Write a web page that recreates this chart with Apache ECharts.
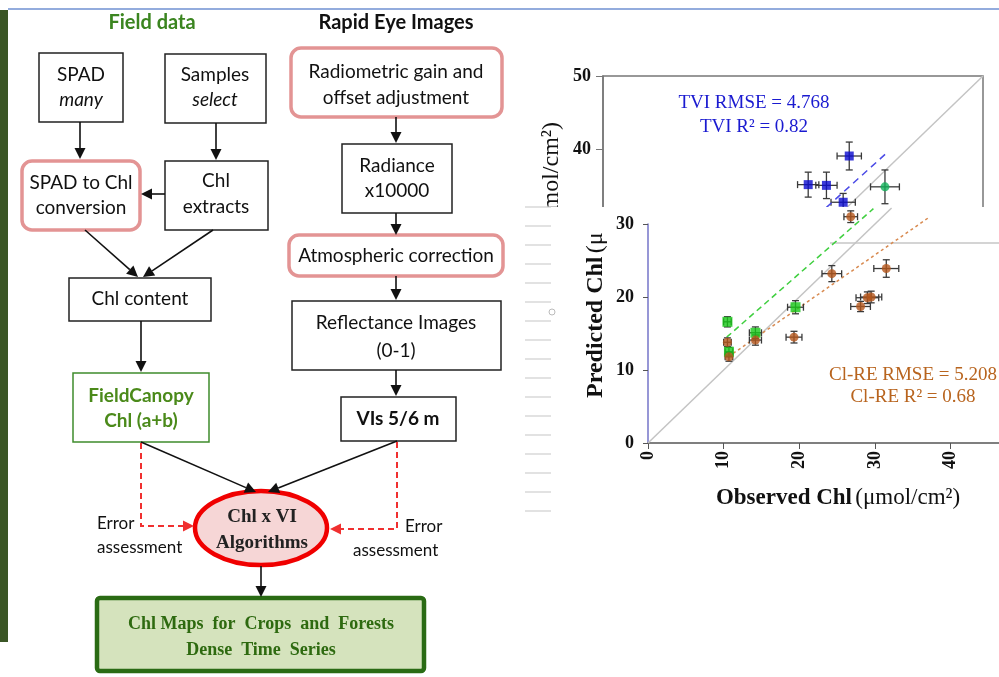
<!DOCTYPE html>
<html>
<head>
<meta charset="utf-8">
<script src="https://cdn.jsdelivr.net/npm/echarts@6/dist/echarts.min.js"></script>
<style>
  html, body { margin: 0; padding: 0; background: #fff; }
  #main { width: 999px; height: 677px; }
</style>
</head>
<body>
<div id="main"></div>
<script>
// upper panel (TVI)
var tviObs = [32.4, 27.0, 29.4, 31.6];
var tviPred = [39.1, 35.2, 35.1, 32.8];
var tviErrX = [1.6, 1.4, 1.4, 1.6];
var tviErrY = [1.9, 1.7, 1.8, 1.2];
var extraObs = [37.1];
var extraPred = [34.9];
var extraErrX = [1.9];
var extraErrY = [2.3];
var tviFit = [[29.4, 32.1], [37.2, 39.4]];
var oneToOneTop = [[0, 0], [50, 50]];

// lower panel (green squares + Cl-RE)
var greenObs = [10.5, 10.7, 14.2, 19.5];
var greenPred = [16.6, 12.5, 15.1, 18.6];
var greenErrX = [0.5, 0.5, 0.8, 1.05];
var greenErrY = [0.7, 0.6, 0.8, 0.9];
var creObs = [10.5, 10.7, 14.2, 19.3, 24.3, 31.5, 29.0, 29.5, 28.1, 26.8];
var crePred = [13.8, 11.8, 14.1, 14.5, 23.2, 23.9, 19.9, 20.0, 18.7, 31.0];
var creErrX = [0.5, 0.5, 0.8, 1.05, 1.3, 1.65, 1.5, 1.4, 1.3, 0.9];
var creErrY = [0.6, 0.6, 0.7, 0.8, 1.1, 1.2, 0.8, 0.8, 0.7, 0.8];
var greenFit = [[10.4, 14.5], [29.8, 32.1]];
var creFit = [[10.6, 11.8], [37.0, 30.8]];
var oneToOneLow = [[0, 0], [32.2, 32.2]];

var SANS = 'Lato, "Noto Sans", sans-serif';
var SERIF = '"Liberation Serif", "DejaVu Serif", serif';

function zip(xs, ys) {
  return xs.map(function (x, i) { return [x, ys[i]]; });
}
function zip4(xs, ys, ex, ey) {
  return xs.map(function (x, i) { return [x, ys[i], ex[i], ey[i]]; });
}

// error bars drawn through the axes
function errRender(params, api) {
  var x = api.value(0), y = api.value(1), ex = api.value(2), ey = api.value(3);
  var c = api.coord([x, y]);
  var l = api.coord([x - ex, y]), r = api.coord([x + ex, y]);
  var t = api.coord([x, y + ey]), b = api.coord([x, y - ey]);
  var st = { stroke: '#3a3a3a', lineWidth: 1.3 };
  var cap = 3.5;
  return {
    type: 'group',
    children: [
      { type: 'line', shape: { x1: l[0], y1: c[1], x2: r[0], y2: c[1] }, style: st },
      { type: 'line', shape: { x1: c[0], y1: t[1], x2: c[0], y2: b[1] }, style: st },
      { type: 'line', shape: { x1: l[0], y1: c[1] - cap, x2: l[0], y2: c[1] + cap }, style: st },
      { type: 'line', shape: { x1: r[0], y1: c[1] - cap, x2: r[0], y2: c[1] + cap }, style: st },
      { type: 'line', shape: { x1: c[0] - cap, y1: t[1], x2: c[0] + cap, y2: t[1] }, style: st },
      { type: 'line', shape: { x1: c[0] - cap, y1: b[1], x2: c[0] + cap, y2: b[1] }, style: st }
    ]
  };
}

// ---------- flowchart helpers ----------
var els = [];
function box(x, y, w, h, kind) {
  var s = { fill: '#fff', stroke: '#222', lineWidth: 1.5 };
  var r = 0;
  if (kind === 'pink') { s.stroke = '#e39494'; s.lineWidth = 3.5; r = 10; }
  if (kind === 'green') { s.stroke = '#3f8c2c'; s.lineWidth = 1.5; }
  if (kind === 'final') { s.fill = '#d5e3bd'; s.stroke = '#2a6b14'; s.lineWidth = 4.5; r = 3; }
  els.push({ type: 'rect', z: 3, shape: { x: x, y: y, width: w, height: h, r: r }, style: s });
}
function txt(str, x, y, font, color, align) {
  els.push({
    type: 'text', z: 4,
    style: {
      text: str, x: x, y: y, font: font, fill: color || '#111',
      align: align || 'center', verticalAlign: 'middle',
      textAlign: align || 'center', textVerticalAlign: 'middle'
    }
  });
}
function arrow(x1, y1, x2, y2, color, dashed) {
  var col = color || '#111';
  var a = Math.atan2(y2 - y1, x2 - x1);
  var len = 11, hw = 5.5;
  var bx = x2 - len * Math.cos(a), by = y2 - len * Math.sin(a);
  els.push({
    type: 'line', z: 3,
    shape: { x1: x1, y1: y1, x2: bx, y2: by },
    style: { stroke: col, lineWidth: dashed ? 2 : 1.6, lineDash: dashed ? [6, 4] : null }
  });
  els.push({
    type: 'polygon', z: 3,
    shape: { points: [[x2, y2],
      [bx + hw * Math.sin(a), by - hw * Math.cos(a)],
      [bx - hw * Math.sin(a), by + hw * Math.cos(a)]] },
    style: { fill: col }
  });
}
function dline(pts, color) {
  els.push({
    type: 'polyline', z: 3, shape: { points: pts },
    style: { stroke: color, lineWidth: 2, lineDash: [6, 4], fill: null }
  });
}

// frame decorations
els.push({ type: 'rect', z: 1, shape: { x: 0, y: 10, width: 8, height: 632 }, style: { fill: '#3b5626' } });
els.push({ type: 'line', z: 1, shape: { x1: 8, y1: 9, x2: 999, y2: 9 }, style: { stroke: '#6f90d2', lineWidth: 1.5 } });

var F = '19px ' + SANS;
var FB = 'bold 19px ' + SANS;
var FI = 'italic 19px ' + SANS;

txt('Field data', 152, 23, 'bold 20px ' + SANS, '#3b8520');
txt('Rapid Eye Images', 396, 23, 'bold 20px ' + SANS, '#111');

box(39, 53, 84, 69); txt('SPAD', 81, 75, F); txt('many', 81, 100, FI);
box(165, 54, 101, 69); txt('Samples', 215, 75, F); txt('select', 215, 100, FI);
box(291, 48, 211, 69, 'pink'); txt('Radiometric gain and', 396, 72, F); txt('offset adjustment', 396, 98, F);
box(22, 161, 118, 69, 'pink'); txt('SPAD to Chl', 81, 183, F); txt('conversion', 81, 208, F);
box(165, 161, 103, 69); txt('Chl', 216, 181, F); txt('extracts', 216, 207, F);
box(342, 144, 110, 69); txt('Radiance', 397, 166, F); txt('x10000', 397, 191, F);
box(69, 278, 142, 43); txt('Chl content', 140, 299, F);
box(289, 235, 214, 41, 'pink'); txt('Atmospheric correction', 396, 256, F);
box(292, 301, 209, 69); txt('Reflectance Images', 396, 323, F); txt('(0-1)', 396, 351, F);
box(73, 373, 136, 69, 'green'); txt('FieldCanopy', 141, 396, FB, '#4b8a1a'); txt('Chl (a+b)', 141, 421, FB, '#4b8a1a');
box(341, 397, 115, 44); txt('VIs 5/6 m', 398, 419, FB);

els.push({ type: 'ellipse', z: 3, shape: { cx: 261, cy: 528, rx: 66, ry: 37 },
  style: { fill: '#f6d6d6', stroke: '#f00000', lineWidth: 4.5 } });
txt('Chl x VI', 262, 517, 'bold 19px ' + SERIF, '#222');
txt('Algorithms', 262, 543, 'bold 19px ' + SERIF, '#222');

box(97, 598, 327, 73, 'final');
txt('Chl Maps  for  Crops  and  Forests', 261, 624, 'bold 18px ' + SERIF, '#2e6a10');
txt('Dense  Time  Series', 261, 650, 'bold 18px ' + SERIF, '#2e6a10');

txt('Error', 97, 524, '17px ' + SANS, '#111', 'left');
txt('assessment', 97, 548, '17px ' + SANS, '#111', 'left');
txt('Error', 405, 527, '17px ' + SANS, '#111', 'left');
txt('assessment', 353, 551, '17px ' + SANS, '#111', 'left');

arrow(80, 122, 80, 159);
arrow(216, 123, 216, 160);
arrow(165, 194, 141, 194);
arrow(396, 117, 396, 143);
arrow(396, 213, 396, 235);
arrow(85, 230, 138, 277);
arrow(213, 230, 143, 277);
arrow(141, 321, 141, 372);
arrow(396, 276, 396, 300);
arrow(396, 370, 396, 396);
arrow(141, 442, 256, 492);
arrow(397, 441, 268, 492);
arrow(261, 566, 261, 597);
dline([[141, 443], [141, 526], [182, 526]], '#f03030');
arrow(181, 526, 194, 526, '#f03030', true);
dline([[397, 442], [397, 529], [342, 529]], '#f03030');
arrow(343, 529, 330, 529, '#f03030', true);

// ---------- chart overlays ----------
// upper y label (mostly hidden behind the lower panel)
els.push({
  type: 'text', z: 2, x: 552, y: 122, rotation: Math.PI / 2,
  style: {
    text: '{b|Predicted Chl} {n|(μmol/cm²)}', x: 0, y: 0,
    align: 'right', verticalAlign: 'middle', textAlign: 'right', textVerticalAlign: 'middle',
    rich: { b: { font: 'bold 24px ' + SERIF, fill: '#111' }, n: { font: '24px ' + SERIF, fill: '#111' } }
  }
});
// lower panel covers the upper one
els.push({ type: 'rect', z: 5, shape: { x: 515, y: 207, width: 484, height: 318 }, style: { fill: '#fff' } });
for (var k = 0; k < 17; k++) {
  els.push({ type: 'line', z: 6, shape: { x1: 525, y1: 207 + 19 * k, x2: 551, y2: 207 + 19 * k },
    style: { stroke: '#cfcfcf', lineWidth: 1.2 } });
}
els.push({ type: 'circle', z: 6, shape: { cx: 552, cy: 312, r: 3 }, style: { fill: null, stroke: '#bbb', lineWidth: 1 } });
els.push({ type: 'line', z: 6, shape: { x1: 830, y1: 243, x2: 999, y2: 243 }, style: { stroke: '#aaa', lineWidth: 1.2 } });
els.push({
  type: 'text', z: 12, x: 596, y: 398, rotation: Math.PI / 2,
  style: {
    text: '{b|Predicted Chl} {n|(μ}', x: 0, y: 0,
    align: 'left', verticalAlign: 'middle', textAlign: 'left', textVerticalAlign: 'middle',
    rich: { b: { font: 'bold 24px ' + SERIF, fill: '#111' }, n: { font: '24px ' + SERIF, fill: '#111' } }
  }
});
els.push({
  type: 'text', z: 12,
  style: {
    text: '{b|Observed Chl} {n|(μmol/cm²)}', x: 838, y: 498,
    align: 'center', verticalAlign: 'middle', textAlign: 'center', textVerticalAlign: 'middle',
    rich: { b: { font: 'bold 23px ' + SERIF, fill: '#111' }, n: { font: '23px ' + SERIF, fill: '#111' } }
  }
});
function note(str, x, y, color, z) {
  els.push({ type: 'text', z: z, style: { text: str, x: x, y: y, font: '19px ' + SERIF, fill: color,
    align: 'center', verticalAlign: 'middle', textAlign: 'center', textVerticalAlign: 'middle' } });
}
note('TVI RMSE = 4.768', 754, 103, '#1a1ad0', 4);
note('TVI R² = 0.82', 754, 127, '#1a1ad0', 4);
note('Cl-RE RMSE = 5.208', 913, 375, '#b8641e', 12);
note('Cl-RE R² = 0.68', 913, 397, '#b8641e', 12);

var tickFont = { fontFamily: SERIF, fontWeight: 'bold', fontSize: 18, color: '#111' };

var chart = echarts.init(document.getElementById('main'), null, { renderer: 'canvas' });
chart.setOption({
  backgroundColor: '#fff',
  animation: false,
  graphic: { elements: els },
  grid: [
    { left: 603, top: 76, width: 380, height: 367, show: true, borderColor: '#777', borderWidth: 1.5, z: 1 },
    { left: 648, top: 224, width: 351, height: 219, z: 10 }
  ],
  xAxis: [
    { gridIndex: 0, type: 'value', min: 0, max: 50, show: false },
    {
      gridIndex: 1, type: 'value', min: 0, max: 46.4, interval: 10, z: 10,
      axisLine: { lineStyle: { color: '#555', width: 1.5 } },
      axisTick: { show: true, length: 6, lineStyle: { color: '#555' } },
      splitLine: { show: false },
      axisLabel: Object.assign({ rotate: 90, margin: 8,
        formatter: function (v) { return v % 10 === 0 ? v : ''; } }, tickFont)
    }
  ],
  yAxis: [
    {
      gridIndex: 0, type: 'value', min: 0, max: 50, interval: 10, z: 1,
      axisLine: { show: true, lineStyle: { color: '#777', width: 1.5 } },
      axisTick: { show: true, length: 7, lineStyle: { color: '#777' } },
      splitLine: { show: false },
      axisLabel: Object.assign({ margin: 12 }, tickFont)
    },
    {
      gridIndex: 1, type: 'value', min: 0, max: 30, interval: 10, z: 10,
      axisLine: { show: true, lineStyle: { color: '#7474c8', width: 1.5 } },
      axisTick: { show: true, length: 5, lineStyle: { color: '#555' } },
      splitLine: { show: false },
      axisLabel: Object.assign({ margin: 14 }, tickFont)
    }
  ],
  series: [
    { type: 'line', xAxisIndex: 0, yAxisIndex: 0, z: 1, data: oneToOneTop, symbol: 'none',
      lineStyle: { color: '#c4c4c4', width: 1.5 } },
    { type: 'line', xAxisIndex: 0, yAxisIndex: 0, z: 2, data: tviFit, symbol: 'none',
      lineStyle: { color: '#4a4ae6', width: 1.5, type: [7, 5] } },
    { type: 'custom', xAxisIndex: 0, yAxisIndex: 0, z: 2, renderItem: errRender,
      data: zip4(tviObs, tviPred, tviErrX, tviErrY).concat(zip4(extraObs, extraPred, extraErrX, extraErrY)) },
    { type: 'scatter', xAxisIndex: 0, yAxisIndex: 0, z: 3, symbol: 'rect', symbolSize: 9,
      itemStyle: { color: '#0a0ad0' }, data: zip(tviObs, tviPred) },
    { type: 'scatter', xAxisIndex: 0, yAxisIndex: 0, z: 3, symbol: 'circle', symbolSize: 9,
      itemStyle: { color: '#12b25a' }, data: zip(extraObs, extraPred) },

    { type: 'line', xAxisIndex: 1, yAxisIndex: 1, z: 11, clip: false, data: oneToOneLow, symbol: 'none',
      lineStyle: { color: '#c4c4c4', width: 1.5 } },
    { type: 'line', xAxisIndex: 1, yAxisIndex: 1, z: 11, clip: false, data: greenFit, symbol: 'none',
      lineStyle: { color: '#3fcf3f', width: 1.5, type: [6, 4] } },
    { type: 'line', xAxisIndex: 1, yAxisIndex: 1, z: 11, clip: false, data: creFit, symbol: 'none',
      lineStyle: { color: '#d88a50', width: 1.5, type: [3, 3] } },
    { type: 'custom', xAxisIndex: 1, yAxisIndex: 1, z: 12, clip: false, renderItem: errRender,
      data: zip4(greenObs, greenPred, greenErrX, greenErrY).concat(zip4(creObs, crePred, creErrX, creErrY)) },
    { type: 'scatter', xAxisIndex: 1, yAxisIndex: 1, z: 13, clip: false, symbol: 'rect', symbolSize: 10,
      itemStyle: { color: '#18c818' }, data: zip(greenObs, greenPred) },
    { type: 'scatter', xAxisIndex: 1, yAxisIndex: 1, z: 13, clip: false, symbol: 'circle', symbolSize: 9,
      itemStyle: { color: '#b4561c' }, data: zip(creObs, crePred) }
  ]
});
</script>
</body>
</html>
